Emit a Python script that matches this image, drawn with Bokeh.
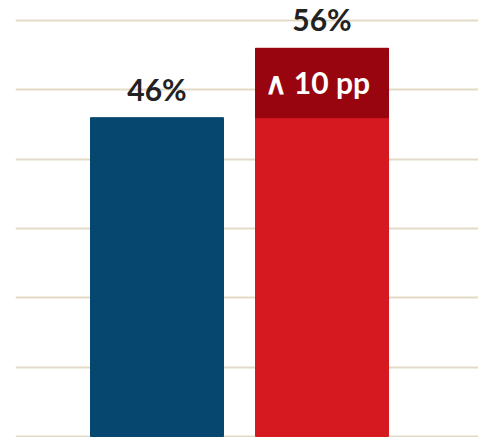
from bokeh.plotting import figure
from bokeh.models import Range1d, FixedTicker, ColumnDataSource
from bokeh.core.properties import value
from bokeh.embed import file_html
from bokeh.resources import INLINE

categories = ["Before", "After"]
values = [46, 56]
bar_colors = ["#05476f", "#d61920"]
grid_ticks = [0, 10, 20, 30, 40, 50, 60]

xs = [i + 1 for i in range(len(categories))]
labels = [f"{v}%" for v in values]
delta = values[1] - values[0]

p = figure(width=478, height=437, output_backend="svg", toolbar_location=None,
           x_range=Range1d(0.1424, 2.9485), y_range=Range1d(-0.15, 62.91),
           min_border_left=15, min_border_right=0, min_border_top=0, min_border_bottom=0)
p.outline_line_color = None
p.xaxis.visible = False
p.yaxis.visible = False
p.xgrid.visible = False
p.yaxis.ticker = FixedTicker(ticks=grid_ticks)
p.ygrid.ticker = FixedTicker(ticks=grid_ticks)
p.ygrid.grid_line_color = "#e3dbc8"
p.ygrid.grid_line_width = 2
p.background_fill_color = "white"
p.border_fill_color = "white"

src = ColumnDataSource(dict(x=xs, top=values, color=bar_colors, label=labels))
p.vbar(x="x", top="top", bottom=0, width=0.806, color="color", source=src)

# increase segment
p.vbar(x=[xs[1]], bottom=[values[0]], top=[values[1]], width=0.806, color="#98050e")

p.text(x="x", y="top", text="label", source=src, text_align="center",
       text_baseline="alphabetic", y_offset=-29, text_font=value("Lato"),
       text_font_style="bold", text_font_size="30px", text_color="#222222")

p.text(x=[xs[1] - 0.403], y=[(values[0] + values[1]) / 2], text=[f"\u2227 {delta} pp"],
       text_align="left", text_baseline="alphabetic", x_offset=9, y_offset=-1,
       text_font=value("Lato"), text_font_style="bold", text_font_size="30px",
       text_color="white")

open("out.html", "w").write(file_html(p, INLINE))
